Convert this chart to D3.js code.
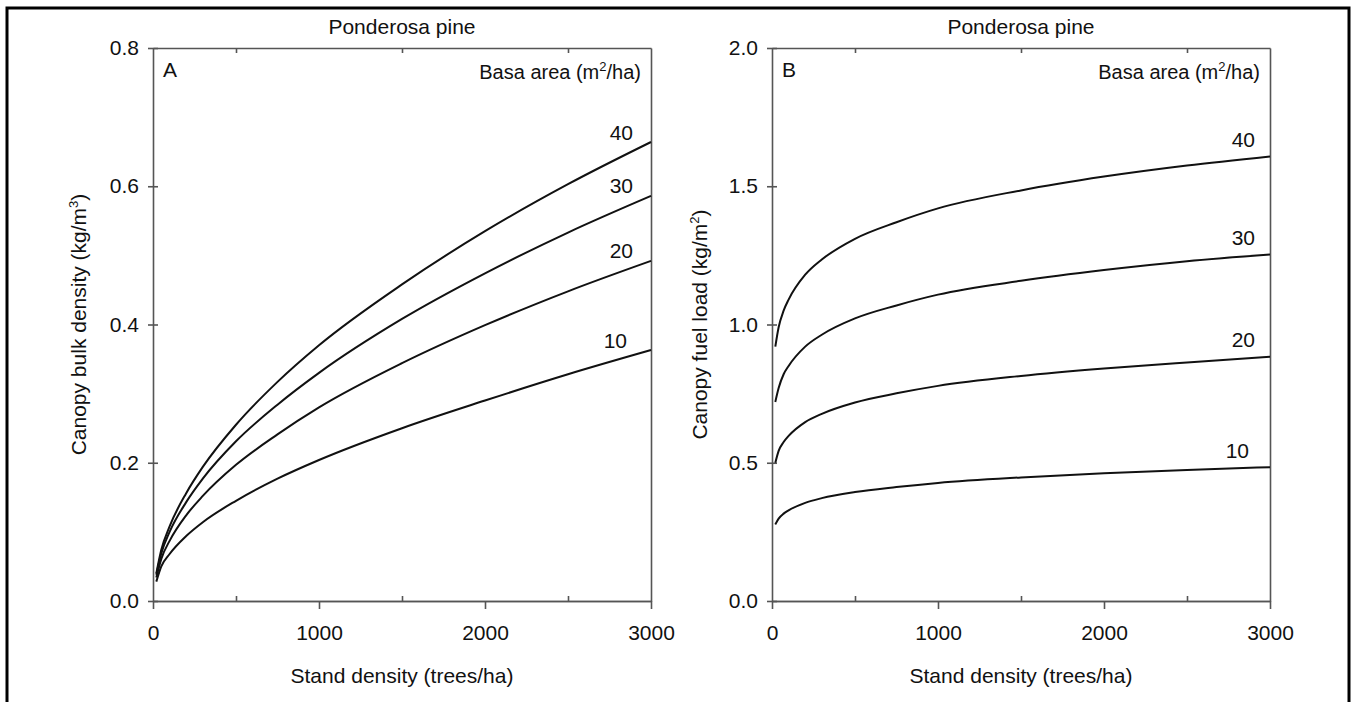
<!DOCTYPE html>
<html>
<head>
<meta charset="utf-8">
<script src="https://cdn.jsdelivr.net/npm/d3@7"></script>
<style>
  body { margin: 0; background: #fff; }
  text { font-family: "Liberation Sans", Arial, sans-serif; fill: #111; }
</style>
</head>
<body>
<div id="chart"></div>
<script>
// basal area classes (m2/ha), one curve each
const basalAreas = [40, 30, 20, 10];

// panel A: canopy bulk density (kg/m3) vs stand density (trees/ha)
const densityA = [20, 50, 100, 200, 300, 500, 750, 1000, 1500, 2000, 2500, 3000];
const cbd40 = [0.040, 0.074, 0.108, 0.156, 0.194, 0.255, 0.317, 0.370, 0.458, 0.535, 0.603, 0.664];
const cbd30 = [0.038, 0.069, 0.100, 0.143, 0.177, 0.231, 0.284, 0.330, 0.408, 0.474, 0.533, 0.586];
const cbd20 = [0.034, 0.061, 0.087, 0.124, 0.152, 0.197, 0.241, 0.280, 0.344, 0.399, 0.448, 0.492];
const cbd10 = [0.028, 0.050, 0.068, 0.094, 0.114, 0.145, 0.177, 0.204, 0.250, 0.290, 0.328, 0.363];

// panel B: canopy fuel load (kg/m2) vs stand density (trees/ha)
const densityB = [20, 40, 70, 100, 200, 300, 500, 750, 1000, 1500, 2000, 2500, 3000];
const cfl40 = [0.92, 0.99, 1.05, 1.09, 1.18, 1.235, 1.31, 1.37, 1.42, 1.485, 1.535, 1.575, 1.608];
const cfl30 = [0.72, 0.77, 0.82, 0.85, 0.92, 0.963, 1.022, 1.069, 1.108, 1.158, 1.197, 1.229, 1.253];
const cfl20 = [0.50, 0.543, 0.575, 0.597, 0.647, 0.677, 0.718, 0.751, 0.778, 0.814, 0.841, 0.863, 0.883];
const cfl10 = [0.277, 0.298, 0.316, 0.328, 0.355, 0.372, 0.394, 0.412, 0.427, 0.447, 0.462, 0.474, 0.484];

// ticks
const xTicks = [0, 1000, 2000, 3000];
const xMinorTicks = [500, 1500, 2500];
const yTicksA = [0, 0.2, 0.4, 0.6, 0.8];
const yTicksB = [0, 0.5, 1.0, 1.5, 2.0];

const width = 1356, height = 702;
const axisColor = '#555';

const svg = d3.select('#chart').append('svg')
    .attr('width', width).attr('height', height);

// outer frame (bottom edge runs off the picture)
svg.append('rect')
    .attr('x', 7).attr('y', 8)
    .attr('width', 1342).attr('height', 720)
    .attr('fill', 'none').attr('stroke', '#000').attr('stroke-width', 3);

function drawPanel(cfg) {
    const innerWidth = 498, innerHeight = 553;
    const g = svg.append('g').attr('transform', `translate(${cfg.left}, 48)`);

    const xScale = d3.scaleLinear().domain([0, 3000]).range([0, innerWidth]);
    const yScale = d3.scaleLinear().domain(cfg.yDomain).range([innerHeight, 0]);

    // bottom axis: major ticks outward, minor ticks inward
    g.append('g')
        .attr('transform', `translate(0, ${innerHeight})`)
        .call(d3.axisBottom(xScale).tickValues(xTicks).tickSize(8).tickSizeOuter(0)
            .tickPadding(16).tickFormat(d3.format('d')));
    g.append('g')
        .attr('transform', `translate(0, ${innerHeight})`)
        .call(d3.axisBottom(xScale).tickValues(xMinorTicks).tickSize(-5).tickSizeOuter(0).tickFormat(''));
    // top axis: minor ticks inward
    g.append('g')
        .call(d3.axisTop(xScale).tickValues(xMinorTicks).tickSize(-5).tickSizeOuter(0).tickFormat(''));
    // left axis: ticks cross the axis
    const yAxisG = g.append('g')
        .call(d3.axisLeft(yScale).tickValues(cfg.yTicks).tickSize(5).tickSizeOuter(0)
            .tickPadding(9).tickFormat(d3.format('.1f')));
    yAxisG.selectAll('.tick line').attr('x1', 5);
    // right axis: plain line
    g.append('g')
        .attr('transform', `translate(${innerWidth}, 0)`)
        .call(d3.axisRight(yScale).tickValues([]).tickSizeOuter(0));

    g.selectAll('.domain, .tick line')
        .attr('stroke', axisColor).attr('stroke-width', 1.6);
    g.selectAll('.tick text')
        .attr('font-size', 21).attr('fill', '#111')
        .style('font-family', '"Liberation Sans", Arial, sans-serif');

    // curves
    const line = d3.line()
        .x(d => xScale(d[0]))
        .y(d => yScale(d[1]))
        .curve(d3.curveMonotoneX);

    cfg.series.forEach((values, i) => {
        const pts = cfg.density.map((n, j) => [n, values[j]]);
        g.append('path')
            .datum(pts)
            .attr('fill', 'none')
            .attr('stroke', '#111')
            .attr('stroke-width', 2)
            .attr('d', line);

        const last = values[values.length - 1];
        g.append('text')
            .attr('x', innerWidth - (basalAreas[i] === 10 ? 24 : 18) + cfg.labelShift)
            .attr('y', yScale(last) - cfg.labelOffset)
            .attr('dy', '0.36em')
            .attr('text-anchor', 'end')
            .attr('font-size', 21)
            .text(basalAreas[i]);
    });

    // panel letter and legend title
    g.append('text')
        .attr('x', 10).attr('y', 29)
        .attr('font-size', 21)
        .text(cfg.letter);

    const lg = g.append('text')
        .attr('x', innerWidth - 10).attr('y', 31)
        .attr('text-anchor', 'end')
        .attr('font-size', 20);
    lg.append('tspan').text('Basa area (m');
    lg.append('tspan').attr('font-size', 13).attr('dy', -8).text('2');
    lg.append('tspan').attr('dy', 8).text('/ha)');

    // title
    g.append('text')
        .attr('x', innerWidth / 2).attr('y', -14)
        .attr('text-anchor', 'middle')
        .attr('font-size', 21)
        .text('Ponderosa pine');

    // x axis title
    g.append('text')
        .attr('x', innerWidth / 2).attr('y', innerHeight + 82)
        .attr('text-anchor', 'middle')
        .attr('font-size', 21)
        .text('Stand density (trees/ha)');

    // y axis title
    const yl = g.append('text')
        .attr('transform', `translate(${cfg.yLabelX}, ${innerHeight / 2}) rotate(-90)`)
        .attr('text-anchor', 'middle')
        .attr('font-size', 21);
    yl.append('tspan').text(cfg.yLabel);
    yl.append('tspan').attr('font-size', 13).attr('dy', -8).text(cfg.yExp);
    yl.append('tspan').attr('dy', 8).text(')');
}

drawPanel({
    left: 153,
    yDomain: [0, 0.8],
    yTicks: yTicksA,
    density: densityA,
    series: [cbd40, cbd30, cbd20, cbd10],
    letter: 'A',
    yLabel: 'Canopy bulk density (kg/m',
    yExp: '3',
    yLabelX: -67,
    labelOffset: 10,
    labelShift: 0
});

drawPanel({
    left: 772,
    yDomain: [0, 2.0],
    yTicks: yTicksB,
    density: densityB,
    series: [cfl40, cfl30, cfl20, cfl10],
    letter: 'B',
    yLabel: 'Canopy fuel load (kg/m',
    yExp: '2',
    yLabelX: -65,
    labelOffset: 17,
    labelShift: 3
});
</script>
</body>
</html>
